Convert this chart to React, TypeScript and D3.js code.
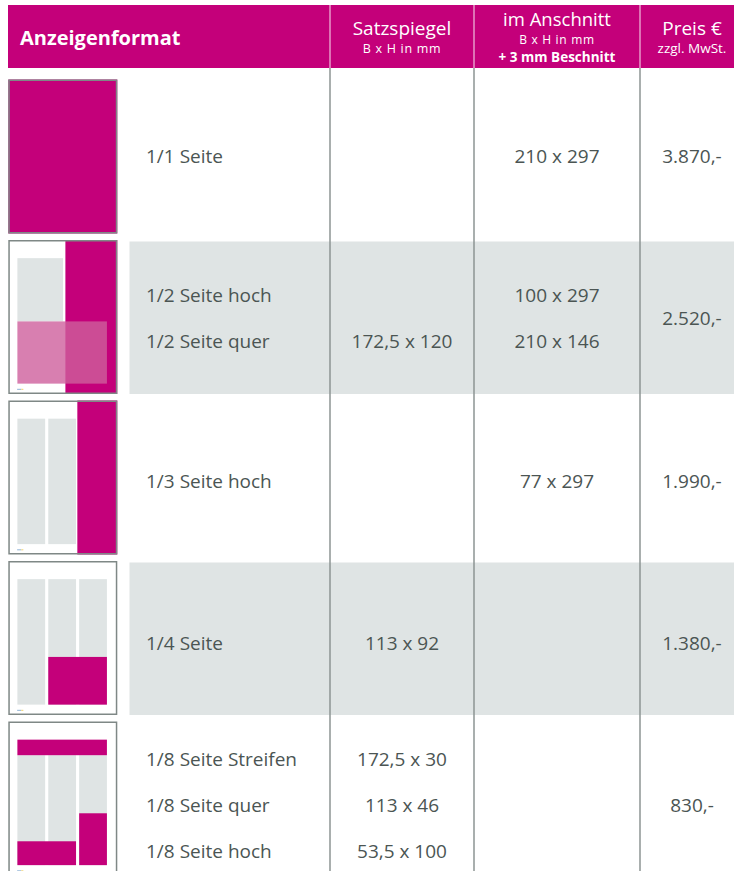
import React from "react";
import * as d3 from "d3";

// table content
const formatLabels = [
  ["1/1 Seite"],
  ["1/2 Seite hoch", "1/2 Seite quer"],
  ["1/3 Seite hoch"],
  ["1/4 Seite"],
  ["1/8 Seite Streifen", "1/8 Seite quer", "1/8 Seite hoch"],
];
const satzspiegel = [[""], ["", "172,5 x 120"], [""], ["113 x 92"], ["172,5 x 30", "113 x 46", "53,5 x 100"]];
const anschnitt = [["210 x 297"], ["100 x 297", "210 x 146"], ["77 x 297"], [""], ["", "", ""]];
const preise = ["3.870,-", "2.520,-", "1.990,-", "1.380,-", "830,-"];
const shaded = [false, true, false, true, false];

// thumbnail contents in mm on a 210 x 297 page: [x, y, w, h]
const greyAreas = [
  [],
  [[17.5, 35, 88, 122]],
  [[17.5, 35, 53.5, 242], [77, 35, 53.5, 242]],
  [[17.5, 35, 53.5, 242], [77, 35, 53.5, 242], [136.5, 35, 53.5, 242]],
  [[17.5, 65, 53.5, 212], [77, 65, 53.5, 212], [136.5, 65, 53.5, 212]],
];
const adAreas = [
  [[0, 0, 210, 297]],
  [[110, 0, 100, 297]],
  [[133, 0, 77, 297]],
  [[77, 185, 113, 92]],
  [[17.5, 35, 172.5, 30], [17.5, 231, 113, 46], [136.5, 177, 53.5, 100]],
];
const overlayAreas = [[], [[17.5, 157, 172.5, 120]], [], [], []];

const W = 734;
const H = 871;
const MAGENTA = "#c4007a";
const TEXT = "#4b5553";
const GREY = "#dfe4e4";
const LINE = "#8c9593";
const FONT = "'Open Sans', sans-serif";

export default function App() {
  const thumbW = 109;
  const thumbH = 154;
  const thumbX = 8.3;
  const rowTop = d3.scaleLinear().domain([0, 4]).range([79.5, 721.5]);
  const textMid = d3.scaleLinear().domain([0, 4]).range([163, 812]);
  const px = d3.scaleLinear().domain([0, 210]).range([0, thumbW]);
  const py = d3.scaleLinear().domain([0, 297]).range([0, thumbH]);
  const colLines = [330, 474, 640];
  const colCenter = { label: 146, satz: 402, an: 557, preis: 692 };
  const lineGap = 46;

  const rect = (r: number[], fill: string, key: string, op = 1) => (
    <rect key={key} x={px(r[0])} y={py(r[1])} width={px(r[2])} height={py(r[3])} fill={fill} opacity={op} />
  );

  return (
    <svg width={W} height={H} style={{ position: "absolute", left: 0, top: 0 }} fontFamily={FONT}>
      <rect width={W} height={H} fill="#fff" />

      {/* header */}
      <rect x={8} y={5} width={W - 8} height={63} fill={MAGENTA} />
      {colLines.map((x) => (
        <line key={"h" + x} x1={x} x2={x} y1={5} y2={68} stroke="#fff" strokeOpacity={0.6} strokeWidth={1.5} />
      ))}
      <text x={20} y={45} fill="#fff" fontSize={20} fontWeight={700}>Anzeigenformat</text>
      <g fill="#fff" textAnchor="middle">
        <text x={colCenter.satz} y={35} fontSize={19}>Satzspiegel</text>
        <text x={colCenter.satz} y={53} fontSize={12.5} letterSpacing={0.7}>B x H in mm</text>
        <text x={colCenter.an} y={26} fontSize={18.5}>im Anschnitt</text>
        <text x={colCenter.an} y={43.5} fontSize={12} letterSpacing={0.7}>B x H in mm</text>
        <text x={colCenter.an} y={62} fontSize={13.5} fontWeight={700}>+ 3 mm Beschnitt</text>
        <text x={colCenter.preis} y={35} fontSize={19}>Preis €</text>
        <text x={colCenter.preis} y={53} fontSize={13.5}>zzgl. MwSt.</text>
      </g>

      {/* shaded rows */}
      {shaded.map((s, i) =>
        s ? <rect key={"b" + i} x={129.5} y={rowTop(i) + 1.5} width={W - 129.5} height={thumbH - 1.5} fill={GREY} /> : null
      )}

      {/* column lines */}
      {colLines.map((x) => (
        <line key={"c" + x} x1={x} x2={x} y1={68} y2={H} stroke={LINE} strokeWidth={1.5} />
      ))}

      {/* thumbnails */}
      {formatLabels.map((_, i) => (
        <g key={"t" + i} transform={`translate(${thumbX},${rowTop(i)})`}>
          <rect width={thumbW} height={thumbH} fill="#fff" />
          {greyAreas[i].map((r, j) => rect(r, GREY, "g" + j))}
          {i > 0 && (
            <g>
              <rect x={px(17)} y={py(287)} width={px(8)} height={1} fill="#8fb2d6" />
              <rect x={px(25)} y={py(287)} width={px(4)} height={1} fill="#f2d36b" />
            </g>
          )}
          {adAreas[i].map((r, j) => rect(r, MAGENTA, "a" + j))}
          {overlayAreas[i].map((r, j) => rect(r, "#ce5f9c", "o" + j, 0.8))}
          <rect x={0.75} y={0.75} width={thumbW - 1.5} height={thumbH - 1.5} fill="none" stroke="#7f8886" strokeWidth={1.5} />
        </g>
      ))}

      {/* texts */}
      <g fill={TEXT} fontSize={19}>
        {formatLabels.map((lines, i) => {
          const n = lines.length;
          const y = (k: number) => textMid(i) + (k - (n - 1) / 2) * lineGap;
          return (
            <g key={"r" + i}>
              {lines.map((l, k) => (
                <text key={"l" + k} x={colCenter.label} y={y(k)}>{l}</text>
              ))}
              {satzspiegel[i].map((l, k) => (
                <text key={"s" + k} x={colCenter.satz} y={y(k)} textAnchor="middle">{l}</text>
              ))}
              {anschnitt[i].map((l, k) => (
                <text key={"n" + k} x={colCenter.an} y={y(k)} textAnchor="middle">{l}</text>
              ))}
              <text x={colCenter.preis} y={textMid(i)} textAnchor="middle">{preise[i]}</text>
            </g>
          );
        })}
      </g>
    </svg>
  );
}
